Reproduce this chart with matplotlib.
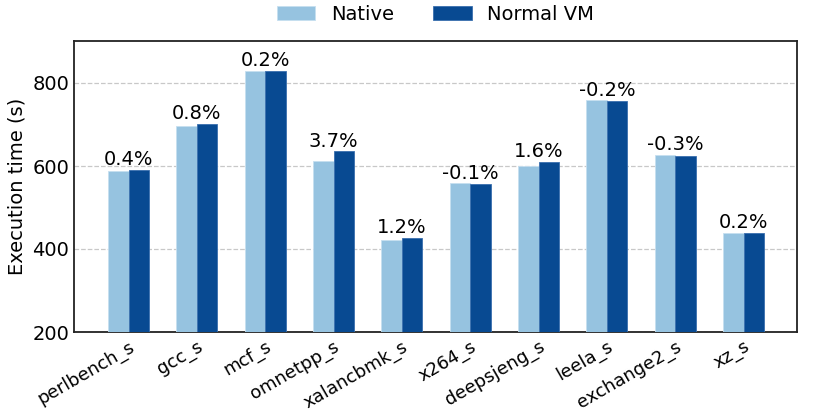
import numpy as np
import matplotlib
matplotlib.use("Agg")
import matplotlib.pyplot as plt

benchmarks = ["perlbench_s", "gcc_s", "mcf_s", "omnetpp_s", "xalancbmk_s",
              "x264_s", "deepsjeng_s", "leela_s", "exchange2_s", "xz_s"]
native = [589, 696, 829, 613, 421, 558, 600, 758, 627, 438]
normal_vm = [591, 701, 830, 635, 426, 557, 609, 757, 625, 439]
overhead = ["0.4%", "0.8%", "0.2%", "3.7%", "1.2%",
            "-0.1%", "1.6%", "-0.2%", "-0.3%", "0.2%"]

fs = 14

fig, ax = plt.subplots(figsize=(8.3, 4.15), dpi=100)
x = np.arange(len(benchmarks))
w = 0.3

ax.bar(x - w / 2, native, w, color="#96c3e0", edgecolor="#c6dff0",
       linewidth=0.6, label="Native", zorder=3)
ax.bar(x + w / 2, normal_vm, w, color="#084a92", edgecolor="#3a6fae",
       linewidth=0.6, label="Normal VM", zorder=3)

for i in range(len(benchmarks)):
    top = max(native[i], normal_vm[i])
    ax.text(x[i], top + 2, overhead[i], ha="center", va="bottom", fontsize=fs)

ax.set_ylim(200, 900)
ax.set_xlim(-0.8, 9.78)
ax.set_yticks([200, 400, 600, 800])
ax.set_ylabel("Execution time (s)", fontsize=fs)
ax.set_xticks(x)
ax.set_xticklabels(benchmarks, rotation=30, ha="right", rotation_mode="anchor",
                   fontsize=13)
ax.tick_params(axis="y", direction="in", length=0, labelsize=fs)
ax.tick_params(axis="x", direction="in", length=0, pad=4)
ax.yaxis.grid(True, linestyle="--", color="#c8c8c8", linewidth=0.9, zorder=0)
for s in ax.spines.values():
    s.set_linewidth(1.3)
    s.set_color("#222222")

ax.legend(loc="lower center", bbox_to_anchor=(0.5, 1.024), ncol=2, frameon=False,
          fontsize=fs, handlelength=2.0, handletextpad=0.8, columnspacing=2.0,
          borderaxespad=0.15)

fig.subplots_adjust(left=0.089, right=0.96, top=0.9, bottom=0.2)
fig.savefig("out.png", dpi=100)
